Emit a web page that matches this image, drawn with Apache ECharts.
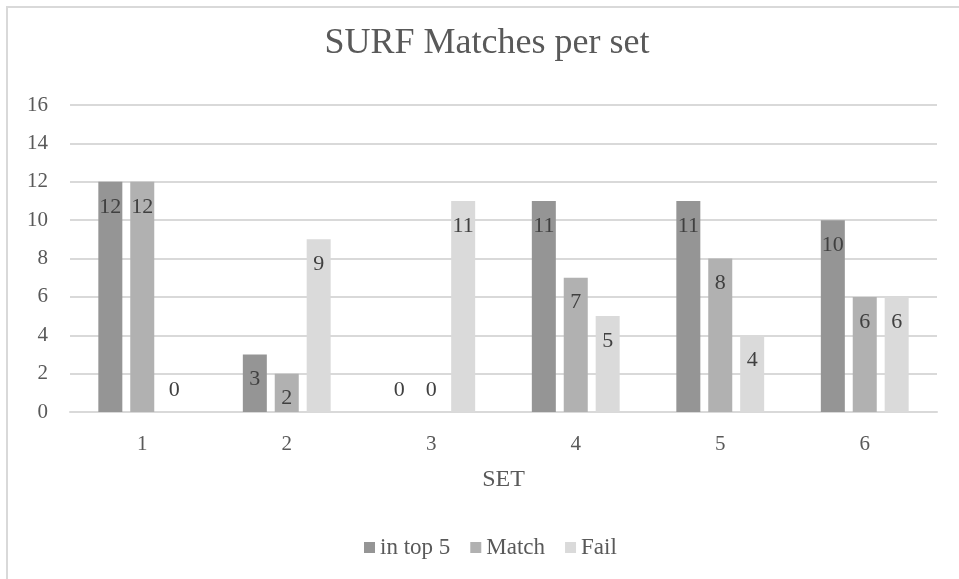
<!DOCTYPE html>
<html>
<head>
<meta charset="utf-8">
<title>SURF Matches per set</title>
<script src="https://cdn.jsdelivr.net/npm/echarts@6/dist/echarts.min.js"></script>
<style>
  html, body { margin: 0; padding: 0; background: #ffffff; }
  #chart { width: 959px; height: 579px; }
</style>
</head>
<body>
<div id="chart"></div>
<script>
// Sets along the x axis
const categories = ['1', '2', '3', '4', '5', '6'];

// Counts per set for each outcome
const inTop5 = [12, 3, 0, 11, 11, 10];
const matchCounts = [12, 2, 0, 7, 8, 6];
const failCounts = [0, 9, 11, 5, 4, 6];

const seriesNames = ['in top 5', 'Match', 'Fail'];
const seriesColors = ['#959595', '#b1b1b1', '#dadada'];

const FONT = '"Liberation Serif", "Times New Roman", serif';
const TEXT_GREY = '#595959';

// Value labels sit inside the bar top; a zero-height bar gets its label just above the axis
function toBarData(values) {
  return values.map(v => {
    if (v === 0) {
      return { value: v, label: { position: 'top', distance: 11 } };
    }
    return v;
  });
}

const valueSets = [inTop5, matchCounts, failCounts];

const chart = echarts.init(document.getElementById('chart'), null, { renderer: 'canvas' });

chart.setOption({
  backgroundColor: '#ffffff',
  animation: false,
  title: {
    text: 'SURF Matches per set',
    left: 482,
    textAlign: 'center',
    top: 21,
    textStyle: { fontFamily: FONT, fontSize: 36, fontWeight: 'normal', color: TEXT_GREY }
  },
  graphic: [{
    type: 'rect',
    shape: { x: 7, y: 7, width: 1200, height: 1200 },
    style: { fill: 'none', stroke: '#d9d9d9', lineWidth: 2 },
    silent: true
  }],
  legend: {
    bottom: 15,
    left: 359,
    itemWidth: 11,
    itemHeight: 11,
    itemGap: 20,
    icon: 'rect',
    textStyle: { fontFamily: FONT, fontSize: 23, color: TEXT_GREY },
    data: seriesNames
  },
  grid: { left: 70, right: 22, top: 105, bottom: 167 },
  xAxis: {
    type: 'category',
    data: categories,
    name: 'SET',
    nameLocation: 'middle',
    nameGap: 56,
    nameTextStyle: { fontFamily: FONT, fontSize: 24, color: TEXT_GREY },
    axisLine: { lineStyle: { color: '#d9d9d9', width: 2 } },
    axisTick: { show: false },
    axisLabel: { fontFamily: FONT, fontSize: 21, color: TEXT_GREY, margin: 22 }
  },
  yAxis: {
    type: 'value',
    min: 0,
    max: 16,
    interval: 2,
    axisLine: { show: false },
    axisTick: { show: false },
    axisLabel: { fontFamily: FONT, fontSize: 21, color: TEXT_GREY, margin: 22 },
    splitLine: { lineStyle: { color: '#d9d9d9', width: 2 } }
  },
  series: seriesNames.map((name, i) => ({
    name: name,
    type: 'bar',
    barWidth: 24,
    barGap: '33%',
    itemStyle: { color: seriesColors[i] },
    label: {
      show: true,
      position: 'insideTop',
      distance: 14,
      fontFamily: FONT,
      fontSize: 22,
      color: '#404040'
    },
    data: toBarData(valueSets[i])
  }))
});
</script>
</body>
</html>
